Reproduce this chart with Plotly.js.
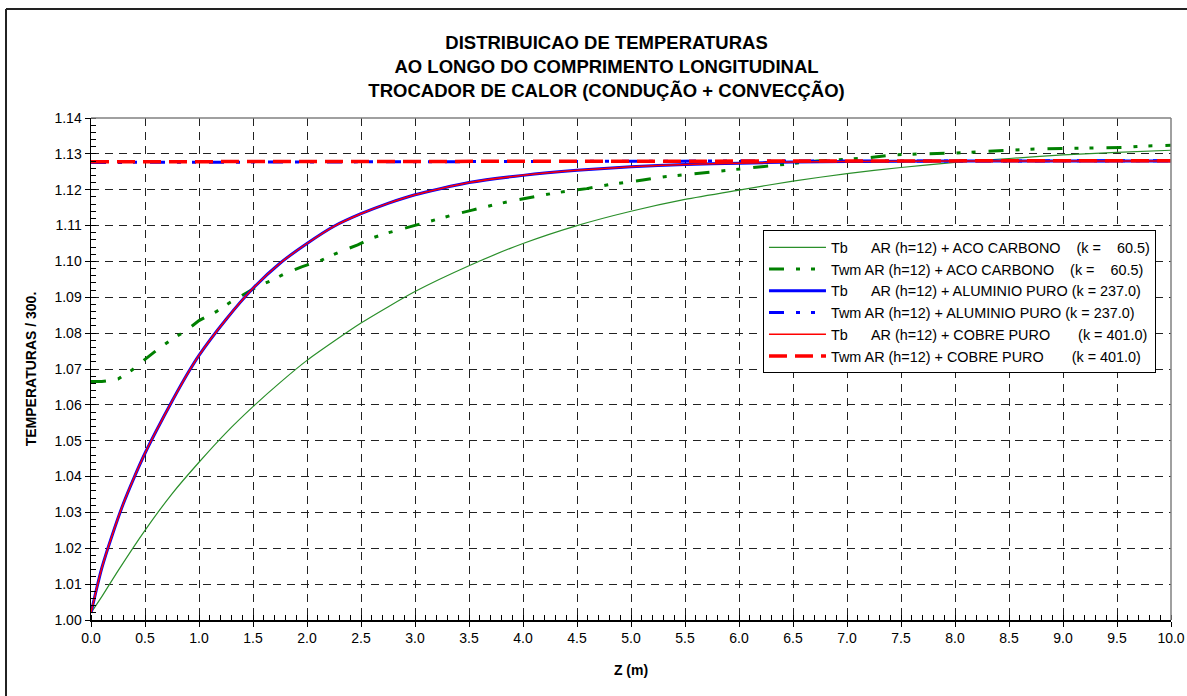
<!DOCTYPE html>
<html>
<head>
<meta charset="utf-8">
<script src="https://cdn.plot.ly/plotly-3.0.1.min.js"></script>
<style>html,body{margin:0;padding:0;background:#fff;}#chart{width:1187px;height:696px;}</style>
</head>
<body>
<div id="chart"></div>
<script>
// ---- data ----
const zTbCarbono = [0, 0.1, 0.25, 0.5, 0.75, 1.0, 1.25, 1.5, 1.75, 2.0, 2.5, 3.0, 3.5, 4.0, 4.5, 5.0, 5.5, 6.0, 6.5, 7.0, 7.5, 8.0, 8.5, 9.0, 9.5, 10.0];
const tbCarbono  = [1.002, 1.0065, 1.0137, 1.0250, 1.0352, 1.0440, 1.0522, 1.0595, 1.0662, 1.0724, 1.0828, 1.0916, 1.0988, 1.1050, 1.1100, 1.1140, 1.1173, 1.1199, 1.1224, 1.1245, 1.1262, 1.1276, 1.1287, 1.1297, 1.1304, 1.1310];

const zTwmCarbono = [0, 0.1, 0.25, 0.38, 0.5, 0.61, 0.75, 0.89, 1.0, 1.16, 1.29, 1.54, 1.68, 1.8, 1.95, 2.13, 2.2, 2.33, 2.47, 2.6, 2.73, 2.86, 3.0, 3.19, 3.39, 3.53, 3.73, 3.92, 4.06, 4.26, 4.45, 4.59, 4.79, 4.98, 5.11, 5.31, 5.5, 5.65, 5.83, 6.03, 6.18, 6.38, 6.72, 7.16, 7.43, 7.68, 7.98, 8.25, 8.48, 8.7, 9.04, 9.37, 9.58, 9.76, 10.0];
const twmCarbono  = [1.0665, 1.0665, 1.0672, 1.0697, 1.0727, 1.0753, 1.0783, 1.0809, 1.0835, 1.0860, 1.0886, 1.0930, 1.0948, 1.0967, 1.0985, 1.1003, 1.1013, 1.1030, 1.1046, 1.1065, 1.1078, 1.1089, 1.1100, 1.1118, 1.1133, 1.1143, 1.1158, 1.1170, 1.1178, 1.1189, 1.1198, 1.1203, 1.1214, 1.1221, 1.1227, 1.1236, 1.1242, 1.1248, 1.1253, 1.1258, 1.1264, 1.1270, 1.1280, 1.1288, 1.1297, 1.1300, 1.1302, 1.1306, 1.1310, 1.1313, 1.1315, 1.1318, 1.1318, 1.1322, 1.1324];

const zTb = [0, 0.05, 0.1, 0.2, 0.3, 0.4, 0.5, 0.6, 0.75, 0.9, 1.0, 1.25, 1.5, 1.75, 2.0, 2.25, 2.5, 2.75, 3.0, 3.5, 4.0, 4.5, 5.0, 5.5, 6.0, 6.5, 7.0, 8.0, 9.0, 10.0];
const tbAluminio = [1.002, 1.0085, 1.0145, 1.0240, 1.0325, 1.0398, 1.0465, 1.0525, 1.0610, 1.0690, 1.0738, 1.0838, 1.0925, 1.0995, 1.1050, 1.1098, 1.1133, 1.1162, 1.1186, 1.1220, 1.1240, 1.1254, 1.1264, 1.1270, 1.1274, 1.1277, 1.1279, 1.1280, 1.1280, 1.1280];
const tbCobre    = [1.002, 1.0085, 1.0145, 1.0240, 1.0325, 1.0398, 1.0465, 1.0525, 1.0610, 1.0690, 1.0738, 1.0838, 1.0925, 1.0995, 1.1050, 1.1098, 1.1133, 1.1162, 1.1186, 1.1220, 1.1240, 1.1254, 1.1264, 1.1270, 1.1274, 1.1277, 1.1279, 1.1280, 1.1280, 1.1280];

const zTwm = [0, 2, 4, 6, 8, 10];
const twmAluminio = [1.1276, 1.1278, 1.1279, 1.1280, 1.1280, 1.1281];
const twmCobre    = [1.1278, 1.1279, 1.1280, 1.1280, 1.1281, 1.1281];

const NB = "\u00A0";
const seriesNames = [
  "Tb" + NB.repeat(5) + " AR (h=12) + ACO CARBONO" + NB.repeat(3) + " (k =" + NB.repeat(3) + " 60.5)",
  "Twm AR (h=12) + ACO CARBONO" + NB.repeat(3) + " (k =" + NB.repeat(3) + " 60.5)",
  "Tb" + NB.repeat(5) + " AR (h=12) + ALUMINIO PURO (k = 237.0)",
  "Twm AR (h=12) + ALUMINIO PURO (k = 237.0)",
  "Tb" + NB.repeat(5) + " AR (h=12) + COBRE PURO" + NB.repeat(6) + " (k = 401.0)",
  "Twm AR (h=12) + COBRE PURO" + NB.repeat(6) + " (k = 401.0)"
];
const titleLines = ["DISTRIBUICAO DE TEMPERATURAS", "AO LONGO DO COMPRIMENTO LONGITUDINAL", "TROCADOR DE CALOR (CONDUÇÃO + CONVECÇÃO)"];
const xTitle = "Z (m)";
const yTitle = "TEMPERATURAS / 300.";

const FONT = "Liberation Sans, Arial, Helvetica, sans-serif";
const dashTwm = "15px,12px,4px,11px,4px,13px";

const traces = [
  {x: zTbCarbono, y: tbCarbono, name: seriesNames[0], mode: "lines", line: {color: "#2a8f2a", width: 1.2, shape: "spline", smoothing: 0.6}},
  {x: zTwmCarbono, y: twmCarbono, name: seriesNames[1], mode: "lines", line: {color: "#008000", width: 3, dash: dashTwm}},
  {x: zTb, y: tbAluminio, name: seriesNames[2], mode: "lines", line: {color: "#0000ff", width: 3, shape: "spline", smoothing: 0.6}},
  {x: zTwm, y: twmAluminio, name: seriesNames[3], mode: "lines", line: {color: "#0000ff", width: 3, dash: dashTwm}},
  {x: zTb, y: tbCobre, name: seriesNames[4], mode: "lines", line: {color: "#ff0000", width: 1.5, shape: "spline", smoothing: 0.6}},
  {x: zTwm, y: twmCobre, name: seriesNames[5], mode: "lines", line: {color: "#ff0000", width: 3.5, dash: "18px,8px"}}
];

const layout = {
  width: 1187, height: 696,
  margin: {l: 91, r: 16, t: 118, b: 76, pad: 0},
  paper_bgcolor: "#fff", plot_bgcolor: "#fff",
  font: {family: FONT, color: "#000", size: 14},
  title: {
    text: titleLines.map(s => "<b>" + s + "</b>").join("<br>"),
    font: {family: FONT, size: 18.5, color: "#000"},
    xref: "container", x: 0.511, xanchor: "center",
    yref: "container", y: 0.9291, yanchor: "middle"
  },
  showlegend: true,
  legend: {
    x: 0.6222, y: 0.776, xanchor: "left", yanchor: "top",
    bgcolor: "#fff", bordercolor: "#000", borderwidth: 1,
    font: {family: FONT, size: 14.4, color: "#000"},
    itemwidth: 57,
    tracegroupgap: 0
  },
  xaxis: {
    range: [0, 10], dtick: 0.5, tick0: 0, tickformat: ".1f",
    showline: true, linecolor: "#000", linewidth: 1.5,
    ticks: "outside", ticklen: 5, tickcolor: "#000", tickwidth: 1,
    showgrid: true, gridcolor: "#222", gridwidth: 1, griddash: "8px,6px",
    zeroline: false,
    tickfont: {family: FONT, size: 14, color: "#000"},
    minor: {dtick: 0.1, ticks: "inside", ticklen: 5, tickcolor: "#000", showgrid: false},
    title: {text: "<b>" + xTitle + "</b>", font: {family: FONT, size: 14, color: "#000"}, standoff: 20}
  },
  yaxis: {
    range: [1.0, 1.14], dtick: 0.01, tick0: 1.0, tickformat: ".2f",
    showline: true, linecolor: "#000", linewidth: 1.5,
    ticks: "outside", ticklen: 5, tickcolor: "#000", tickwidth: 1,
    showgrid: true, gridcolor: "#222", gridwidth: 1, griddash: "8px,6px",
    zeroline: false,
    tickfont: {family: FONT, size: 14, color: "#000"},
    minor: {dtick: 0.002, ticks: "inside", ticklen: 5, tickcolor: "#000", showgrid: false},
    title: {text: "<b>" + yTitle + "</b>", font: {family: FONT, size: 14, color: "#000"}, standoff: 14}
  },
  shapes: [
    {type: "line", xref: "paper", yref: "paper", x0: 0, x1: 1, y0: 1, y1: 1, line: {color: "#808080", width: 1.5}},
    {type: "line", xref: "paper", yref: "paper", x0: 1, x1: 1, y0: 0, y1: 1, line: {color: "#808080", width: 1.5}},
    {type: "line", xref: "paper", yref: "paper", x0: -0.0787, x1: 1.1, y0: 1.2171, y1: 1.2171, line: {color: "#222", width: 2}},
    {type: "line", xref: "paper", yref: "paper", x0: -0.0787, x1: -0.0787, y0: -0.2, y1: 1.2171, line: {color: "#222", width: 2}}
  ]
};

Plotly.newPlot("chart", traces, layout, {displayModeBar: false, staticPlot: true});
</script>
</body>
</html>
